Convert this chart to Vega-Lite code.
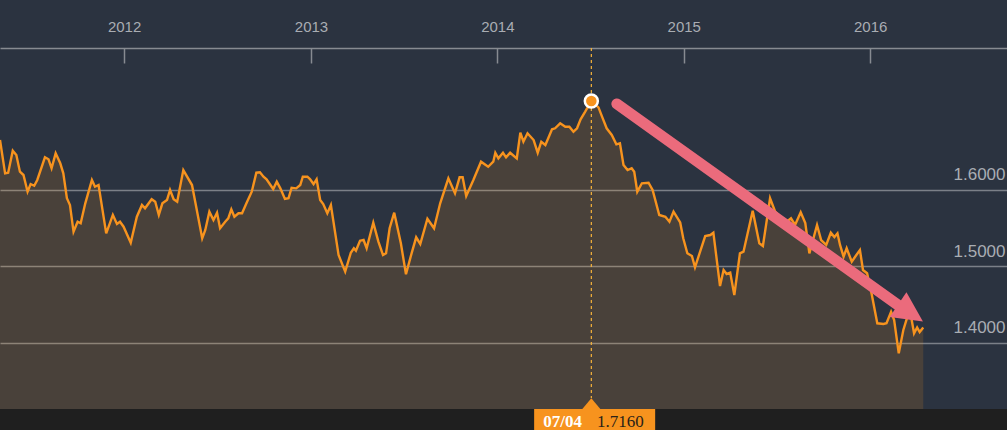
{
  "$schema": "https://vega.github.io/schema/vega-lite/v6.json",
  "width": 1007,
  "height": 382,
  "autosize": {"type": "none"},
  "padding": {"top": 48, "left": 0, "right": 0, "bottom": 0},
  "background": "#2b3340",
  "config": {"view": {"stroke": null}, "font": "Liberation Sans"},
  "datasets": {
    "series": [
      {"date": "2011-05-03", "value": 1.6649}, {"date": "2011-05-13", "value": 1.6214}, {"date": "2011-05-19", "value": 1.6222},
      {"date": "2011-05-28", "value": 1.6509}, {"date": "2011-06-04", "value": 1.6453}, {"date": "2011-06-11", "value": 1.6235},
      {"date": "2011-06-18", "value": 1.6192}, {"date": "2011-06-26", "value": 1.5974}, {"date": "2011-07-02", "value": 1.6074},
      {"date": "2011-07-09", "value": 1.6052}, {"date": "2011-07-15", "value": 1.6127}, {"date": "2011-07-30", "value": 1.6423},
      {"date": "2011-08-06", "value": 1.6397}, {"date": "2011-08-12", "value": 1.628}, {"date": "2011-08-20", "value": 1.6475},
      {"date": "2011-08-29", "value": 1.6345}, {"date": "2011-09-04", "value": 1.6214}, {"date": "2011-09-11", "value": 1.5888},
      {"date": "2011-09-17", "value": 1.58}, {"date": "2011-09-24", "value": 1.5451}, {"date": "2011-10-02", "value": 1.5582},
      {"date": "2011-10-08", "value": 1.5561}, {"date": "2011-10-17", "value": 1.5822}, {"date": "2011-10-30", "value": 1.6127},
      {"date": "2011-11-05", "value": 1.6039}, {"date": "2011-11-12", "value": 1.6061}, {"date": "2011-11-27", "value": 1.543},
      {"date": "2011-12-10", "value": 1.567}, {"date": "2011-12-18", "value": 1.5552}, {"date": "2011-12-24", "value": 1.5582},
      {"date": "2011-12-31", "value": 1.5517}, {"date": "2012-01-14", "value": 1.5308}, {"date": "2012-01-26", "value": 1.5647},
      {"date": "2012-02-05", "value": 1.58}, {"date": "2012-02-11", "value": 1.5757}, {"date": "2012-02-24", "value": 1.5875},
      {"date": "2012-03-02", "value": 1.5843}, {"date": "2012-03-09", "value": 1.567}, {"date": "2012-03-16", "value": 1.5822},
      {"date": "2012-03-25", "value": 1.5865}, {"date": "2012-03-31", "value": 1.5996}, {"date": "2012-04-07", "value": 1.5875},
      {"date": "2012-04-14", "value": 1.5843}, {"date": "2012-04-26", "value": 1.6257}, {"date": "2012-05-13", "value": 1.6061},
      {"date": "2012-06-02", "value": 1.5365}, {"date": "2012-06-08", "value": 1.5474}, {"date": "2012-06-16", "value": 1.5713},
      {"date": "2012-06-24", "value": 1.5604}, {"date": "2012-07-01", "value": 1.57}, {"date": "2012-07-07", "value": 1.5496},
      {"date": "2012-07-17", "value": 1.5582}, {"date": "2012-07-23", "value": 1.5626}, {"date": "2012-07-29", "value": 1.5744},
      {"date": "2012-08-04", "value": 1.5647}, {"date": "2012-08-12", "value": 1.5692}, {"date": "2012-08-19", "value": 1.5692},
      {"date": "2012-08-28", "value": 1.583}, {"date": "2012-09-07", "value": 1.5974}, {"date": "2012-09-16", "value": 1.6222},
      {"date": "2012-09-23", "value": 1.6227}, {"date": "2012-09-30", "value": 1.617}, {"date": "2012-10-06", "value": 1.6136},
      {"date": "2012-10-19", "value": 1.6009}, {"date": "2012-10-26", "value": 1.6105}, {"date": "2012-11-02", "value": 1.6018},
      {"date": "2012-11-11", "value": 1.5879}, {"date": "2012-11-18", "value": 1.5888}, {"date": "2012-11-24", "value": 1.6026},
      {"date": "2012-12-03", "value": 1.6018}, {"date": "2012-12-11", "value": 1.6061}, {"date": "2012-12-16", "value": 1.617},
      {"date": "2012-12-25", "value": 1.617}, {"date": "2012-12-30", "value": 1.614}, {"date": "2013-01-06", "value": 1.6074},
      {"date": "2013-01-12", "value": 1.6136}, {"date": "2013-01-19", "value": 1.5865}, {"date": "2013-01-25", "value": 1.5813},
      {"date": "2013-02-02", "value": 1.5692}, {"date": "2013-02-09", "value": 1.58}, {"date": "2013-02-24", "value": 1.5147},
      {"date": "2013-03-09", "value": 1.4929}, {"date": "2013-03-20", "value": 1.5177}, {"date": "2013-03-26", "value": 1.5235},
      {"date": "2013-03-30", "value": 1.5203}, {"date": "2013-04-07", "value": 1.5334}, {"date": "2013-04-14", "value": 1.5343},
      {"date": "2013-04-20", "value": 1.5235}, {"date": "2013-05-03", "value": 1.5569}, {"date": "2013-05-13", "value": 1.5321},
      {"date": "2013-05-22", "value": 1.5147}, {"date": "2013-05-28", "value": 1.5169}, {"date": "2013-06-04", "value": 1.5496},
      {"date": "2013-06-13", "value": 1.57}, {"date": "2013-06-26", "value": 1.53}, {"date": "2013-07-06", "value": 1.4895},
      {"date": "2013-07-17", "value": 1.5169}, {"date": "2013-07-26", "value": 1.5378}, {"date": "2013-08-03", "value": 1.5291},
      {"date": "2013-08-17", "value": 1.5621}, {"date": "2013-08-30", "value": 1.5496}, {"date": "2013-09-11", "value": 1.5822},
      {"date": "2013-09-27", "value": 1.6149}, {"date": "2013-10-10", "value": 1.5953}, {"date": "2013-10-19", "value": 1.6162},
      {"date": "2013-10-25", "value": 1.6162}, {"date": "2013-11-01", "value": 1.5918}, {"date": "2013-11-15", "value": 1.6127},
      {"date": "2013-11-30", "value": 1.6366}, {"date": "2013-12-14", "value": 1.63}, {"date": "2013-12-24", "value": 1.6366},
      {"date": "2013-12-28", "value": 1.6483}, {"date": "2014-01-03", "value": 1.641}, {"date": "2014-01-12", "value": 1.6483},
      {"date": "2014-01-18", "value": 1.6423}, {"date": "2014-01-26", "value": 1.6483}, {"date": "2014-02-08", "value": 1.641},
      {"date": "2014-02-15", "value": 1.6745}, {"date": "2014-02-21", "value": 1.6627}, {"date": "2014-03-01", "value": 1.6737},
      {"date": "2014-03-13", "value": 1.6649}, {"date": "2014-03-21", "value": 1.6483}, {"date": "2014-03-28", "value": 1.6627},
      {"date": "2014-04-05", "value": 1.6584}, {"date": "2014-04-18", "value": 1.6789}, {"date": "2014-04-24", "value": 1.6802},
      {"date": "2014-05-04", "value": 1.6867}, {"date": "2014-05-14", "value": 1.6823}, {"date": "2014-05-22", "value": 1.6823},
      {"date": "2014-05-30", "value": 1.6758}, {"date": "2014-06-06", "value": 1.6802}, {"date": "2014-06-13", "value": 1.692},
      {"date": "2014-06-22", "value": 1.7019}, {"date": "2014-07-04", "value": 1.716}, {"date": "2014-07-18", "value": 1.7076},
      {"date": "2014-07-25", "value": 1.6954}, {"date": "2014-08-03", "value": 1.6802}, {"date": "2014-08-13", "value": 1.6715},
      {"date": "2014-08-22", "value": 1.6593}, {"date": "2014-08-29", "value": 1.6606}, {"date": "2014-09-05", "value": 1.6323},
      {"date": "2014-09-13", "value": 1.6257}, {"date": "2014-09-21", "value": 1.628}, {"date": "2014-09-26", "value": 1.6235},
      {"date": "2014-10-02", "value": 1.5974}, {"date": "2014-10-11", "value": 1.6084}, {"date": "2014-10-24", "value": 1.6091},
      {"date": "2014-11-01", "value": 1.5996}, {"date": "2014-11-14", "value": 1.567}, {"date": "2014-11-26", "value": 1.5647},
      {"date": "2014-12-04", "value": 1.5582}, {"date": "2014-12-12", "value": 1.5713}, {"date": "2014-12-25", "value": 1.5572},
      {"date": "2014-12-31", "value": 1.5365}, {"date": "2015-01-08", "value": 1.5169}, {"date": "2015-01-17", "value": 1.5134},
      {"date": "2015-01-23", "value": 1.4986}, {"date": "2015-02-12", "value": 1.5395}, {"date": "2015-02-22", "value": 1.5408},
      {"date": "2015-02-28", "value": 1.5438}, {"date": "2015-03-13", "value": 1.4742}, {"date": "2015-03-20", "value": 1.4951},
      {"date": "2015-03-26", "value": 1.4899}, {"date": "2015-04-02", "value": 1.4916}, {"date": "2015-04-10", "value": 1.4624},
      {"date": "2015-04-21", "value": 1.5169}, {"date": "2015-04-28", "value": 1.519}, {"date": "2015-05-16", "value": 1.5726},
      {"date": "2015-05-29", "value": 1.53}, {"date": "2015-06-05", "value": 1.5265}, {"date": "2015-06-19", "value": 1.5888},
      {"date": "2015-06-29", "value": 1.5713}, {"date": "2015-07-09", "value": 1.5647}, {"date": "2015-07-21", "value": 1.5578},
      {"date": "2015-07-30", "value": 1.5626}, {"date": "2015-08-07", "value": 1.5539}, {"date": "2015-08-18", "value": 1.5705},
      {"date": "2015-08-27", "value": 1.5565}, {"date": "2015-09-04", "value": 1.5169}, {"date": "2015-09-19", "value": 1.5539},
      {"date": "2015-09-27", "value": 1.5343}, {"date": "2015-10-07", "value": 1.5278}, {"date": "2015-10-16", "value": 1.5438},
      {"date": "2015-10-23", "value": 1.5382}, {"date": "2015-10-29", "value": 1.543}, {"date": "2015-11-03", "value": 1.5278},
      {"date": "2015-11-10", "value": 1.5125}, {"date": "2015-11-16", "value": 1.5235}, {"date": "2015-11-26", "value": 1.5059},
      {"date": "2015-12-05", "value": 1.5147}, {"date": "2015-12-12", "value": 1.5212}, {"date": "2015-12-18", "value": 1.4951},
      {"date": "2015-12-26", "value": 1.4908}, {"date": "2016-01-04", "value": 1.4638}, {"date": "2016-01-15", "value": 1.4255},
      {"date": "2016-01-27", "value": 1.4246}, {"date": "2016-02-02", "value": 1.4255}, {"date": "2016-02-11", "value": 1.4406},
      {"date": "2016-02-17", "value": 1.4298}, {"date": "2016-02-26", "value": 1.3863}, {"date": "2016-03-06", "value": 1.4167},
      {"date": "2016-03-13", "value": 1.432}, {"date": "2016-03-21", "value": 1.435}, {"date": "2016-03-27", "value": 1.4124},
      {"date": "2016-04-02", "value": 1.42}, {"date": "2016-04-07", "value": 1.4141}, {"date": "2016-04-14", "value": 1.42}
    ],
    "peak": [{"date": "2014-07-04", "value": 1.716}]
  },
  "data": {"values": [{}]},
  "layer": [
    {
      "data": {"name": "series"},
      "mark": {"type": "area", "fill": "#f7931e", "fillOpacity": 0.15},
      "encoding": {
        "x": {
          "field": "date", "type": "temporal",
          "scale": {"type": "utc", "domain": [{"year": 2011, "month": 5, "date": 3, "utc": true}, {"year": 2016, "month": 9, "date": 25, "utc": true}]},
          "axis": {
            "orient": "top", "title": null, "grid": false,
            "values": [
              {"year": 2012, "month": 1, "date": 1, "utc": true}, {"year": 2013, "month": 1, "date": 1, "utc": true},
              {"year": 2014, "month": 1, "date": 1, "utc": true}, {"year": 2015, "month": 1, "date": 1, "utc": true},
              {"year": 2016, "month": 1, "date": 1, "utc": true}
            ],
            "labelExpr": "utcFormat(datum.value, '%Y')",
            "domainColor": "#878b91", "domainWidth": 1.5,
            "tickColor": "#878b91", "tickWidth": 1.5, "tickSize": -15,
            "labelPadding": 29, "labelFontSize": 15, "labelColor": "#a9adb3", "labelFlush": false
          }
        },
        "y": {
          "field": "value", "type": "quantitative",
          "scale": {"domain": [1.28609, 1.78511], "nice": false, "zero": false},
          "axis": {
            "orient": "right", "title": null, "domain": false, "ticks": false, "grid": true,
            "values": [1.4, 1.5, 1.6],
            "labelExpr": "format(datum.value, '.4f')",
            "gridColor": "#7b8088", "gridWidth": 1.5,
            "labelAlign": "left", "labelPadding": -54, "labelBaseline": "alphabetic", "labelOffset": -10,
            "labelFontSize": 17, "labelColor": "#a9adb3", "labelOverlap": false
          }
        },
        "y2": {"datum": 1.31352}
      }
    },
    {
      "data": {"name": "series"},
      "mark": {"type": "line", "color": "#f7931e", "strokeWidth": 2.4},
      "encoding": {
        "x": {"field": "date", "type": "temporal"},
        "y": {"field": "value", "type": "quantitative"}
      }
    },
    {
      "mark": {"type": "rect", "color": "#1f1f1f"},
      "encoding": {
        "x": {"datum": {"year": 2011, "month": 5, "date": 3, "utc": true}, "type": "temporal"},
        "x2": {"datum": {"year": 2016, "month": 9, "date": 25, "utc": true}},
        "y": {"datum": 1.28609, "type": "quantitative"},
        "y2": {"datum": 1.31352}
      }
    },
    {
      "mark": {"type": "rule", "color": "#f6b23a", "strokeDash": [3, 3], "strokeWidth": 1.2},
      "encoding": {
        "x": {"datum": {"year": 2014, "month": 7, "date": 4, "utc": true}, "type": "temporal"},
        "y": {"datum": 1.78511, "type": "quantitative"},
        "y2": {"datum": 1.32789}
      }
    },
    {
      "mark": {"type": "point", "shape": "M-1,0L0,-1.2L1,0Z", "size": 324, "filled": true, "fill": "#f7931e", "opacity": 1, "strokeWidth": 0},
      "encoding": {
        "x": {"datum": {"year": 2014, "month": 7, "date": 4, "utc": true}, "type": "temporal"},
        "y": {"datum": 1.31352, "type": "quantitative"}
      }
    },
    {
      "mark": {"type": "rect", "color": "#f7931e"},
      "encoding": {
        "x": {"datum": {"year": 2014, "month": 3, "date": 14, "utc": true}, "type": "temporal"},
        "x2": {"datum": {"year": 2014, "month": 11, "date": 6, "utc": true}},
        "y": {"datum": 1.28609, "type": "quantitative"},
        "y2": {"datum": 1.31352}
      }
    },
    {
      "mark": {"type": "text", "text": "07/04", "font": "Liberation Serif", "fontWeight": "bold", "fontSize": 17, "color": "#ffffff", "align": "left", "baseline": "alphabetic"},
      "encoding": {
        "x": {"datum": {"year": 2014, "month": 4, "date": 1, "utc": true}, "type": "temporal"},
        "y": {"datum": 1.2905, "type": "quantitative"}
      }
    },
    {
      "mark": {"type": "text", "text": "1.7160", "font": "Liberation Serif", "fontSize": 17, "color": "#2a2218", "align": "left", "baseline": "alphabetic"},
      "encoding": {
        "x": {"datum": {"year": 2014, "month": 7, "date": 15, "utc": true}, "type": "temporal"},
        "y": {"datum": 1.2905, "type": "quantitative"}
      }
    },
    {
      "data": {"name": "peak"},
      "mark": {"type": "point", "shape": "circle", "filled": true, "fill": "#f7931e", "stroke": "#ffffff", "strokeWidth": 2.5, "size": 170, "opacity": 1},
      "encoding": {
        "x": {"field": "date", "type": "temporal"},
        "y": {"field": "value", "type": "quantitative"}
      }
    },
    {
      "mark": {"type": "rule", "color": "#eb6b7c", "strokeWidth": 11, "strokeCap": "round"},
      "encoding": {
        "x": {"datum": {"year": 2014, "month": 8, "date": 23, "utc": true}, "type": "temporal"},
        "y": {"datum": 1.7121, "type": "quantitative"},
        "x2": {"datum": {"year": 2016, "month": 3, "date": 5, "utc": true}},
        "y2": {"datum": 1.4449}
      }
    },
    {
      "mark": {"type": "point", "shape": "M1,0L-1,-1L-1,1Z", "size": 900, "angle": 34, "filled": true, "fill": "#eb6b7c", "opacity": 1, "strokeWidth": 0},
      "encoding": {
        "x": {"datum": {"year": 2016, "month": 3, "date": 20, "utc": true}, "type": "temporal"},
        "y": {"datum": 1.4389, "type": "quantitative"}
      }
    }
  ]
}
